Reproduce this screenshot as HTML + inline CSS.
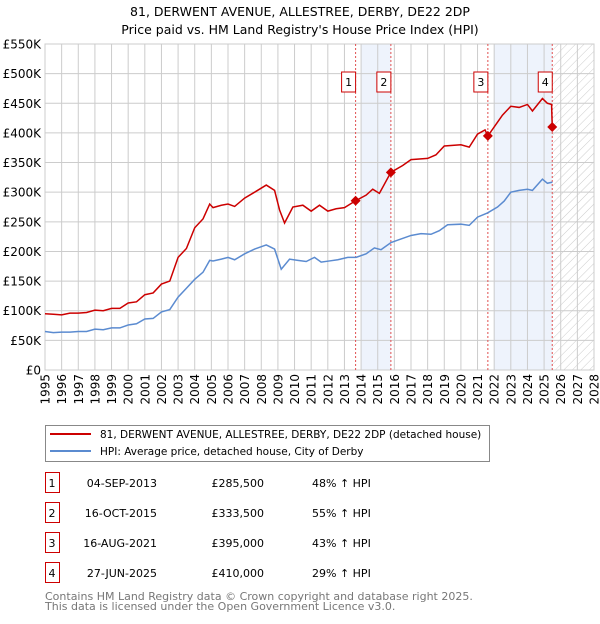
<!DOCTYPE html>
<html><head><meta charset="utf-8"><style>
body{margin:0;background:#fff;font-family:"DejaVu Sans","Liberation Sans",sans-serif}
svg text{font-family:"DejaVu Sans","Liberation Sans",sans-serif}
</style></head><body>
<svg id="c" width="600" height="620" viewBox="0 0 600 620" xmlns="http://www.w3.org/2000/svg">
<defs><pattern id="hatch" width="6" height="6" patternUnits="userSpaceOnUse" patternTransform="rotate(45)"><line x1="0" y1="0" x2="0" y2="6" stroke="#ccc" stroke-width="1"/></pattern></defs>
<text x="300" y="16" text-anchor="middle" font-size="12.5">81, DERWENT AVENUE, ALLESTREE, DERBY, DE22 2DP</text>
<text x="300" y="34" text-anchor="middle" font-size="12.5">Price paid vs. HM Land Registry's House Price Index (HPI)</text>
<g id="plot"></g>
<g>
<rect x="45.5" y="425.5" width="444" height="36" fill="#fff" stroke="#888"/>
<line x1="50" y1="434" x2="91" y2="434" stroke="#cc0000" stroke-width="2"/>
<text x="100" y="438" font-size="10.5">81, DERWENT AVENUE, ALLESTREE, DERBY, DE22 2DP (detached house)</text>
<line x1="50" y1="451" x2="91" y2="451" stroke="#5b8bd0" stroke-width="2"/>
<text x="100" y="455" font-size="10.5">HPI: Average price, detached house, City of Derby</text>
</g>
<g id="table" font-size="11"></g>
<text x="45" y="600" font-size="11" fill="#777">Contains HM Land Registry data © Crown copyright and database right 2025.</text>
<text x="45" y="610" font-size="11" fill="#777">This data is licensed under the Open Government Licence v3.0.</text>
</svg>
<script>
const yTicks=[0,50,100,150,200,250,300,350,400,450,500,550];
const yearTicks=[1995,1996,1997,1998,1999,2000,2001,2002,2003,2004,2005,2006,2007,2008,2009,2010,2011,2012,2013,2014,2015,2016,2017,2018,2019,2020,2021,2022,2023,2024,2025,2026,2027,2028];
const hpiYears=[1995,1995.5,1996,1996.5,1997,1997.5,1998,1998.5,1999,1999.5,2000,2000.5,2001,2001.5,2002,2002.5,2003,2003.5,2004,2004.5,2004.9,2005.1,2005.6,2006,2006.4,2007,2007.6,2008.3,2008.8,2009.2,2009.7,2010.2,2010.7,2011.2,2011.6,2012.1,2012.6,2013.2,2013.7,2014.3,2014.8,2015.2,2015.8,2016.3,2017,2017.6,2018.2,2018.7,2019.2,2020,2020.5,2021,2021.6,2022.2,2022.6,2023,2023.5,2024,2024.3,2024.9,2025.2,2025.5];
const hpiValues=[65,63,64,64,65,65,69,68,71,71,76,78,86,87,98,102,123,138,153,165,185,184,187,190,186,196,204,211,204,170,187,185,183,190,182,184,186,190,190,196,206,203,215,220,227,230,229,235,245,246,244,258,265,275,285,300,303,305,303,322,315,317];
const redYears=[1995,1995.5,1996,1996.5,1997,1997.5,1998,1998.5,1999,1999.5,2000,2000.5,2001,2001.5,2002,2002.5,2003,2003.5,2004,2004.5,2004.9,2005.1,2005.6,2006,2006.4,2007,2007.6,2008.3,2008.8,2009.1,2009.4,2009.9,2010.5,2011,2011.5,2012,2012.5,2013,2013.67,2014.3,2014.7,2015.1,2015.79,2016.5,2017,2018,2018.5,2019,2020,2020.5,2021,2021.45,2021.62,2022,2022.5,2023,2023.5,2024,2024.3,2024.9,2025.2,2025.45,2025.49];
const redValues=[95,94,93,96,96,97,101,100,104,104,113,115,127,130,145,150,190,205,240,255,280,274,278,280,276,290,300,312,303,270,248,275,278,268,278,268,272,274,285.5,295,305,298,333.5,345,355,357,363,378,380,376,398,405,395,410,430,445,443,448,437,458,450,448,410];
const saleLabels=["1","2","3","4"];
const saleDates=[2013.67,2015.79,2021.62,2025.49];
const salePrices=[285.5,333.5,395,410];
const saleDateText=["04-SEP-2013","16-OCT-2015","16-AUG-2021","27-JUN-2025"];
const salePriceText=["£285,500","£333,500","£395,000","£410,000"];
const saleHpiText=["48% ↑ HPI","55% ↑ HPI","43% ↑ HPI","29% ↑ HPI"];
const shadeFrom=[2014,2022];
const shadeTo=[2015.79,2025.49];

const NS="http://www.w3.org/2000/svg";
const L=45,R=594,T=44,B=370;
const xS=y=>L+(y-1995)/(2028-1995)*(R-L);
const yS=v=>B-v/550*(B-T);
const plot=document.getElementById('plot');
function mk(tag,attrs,parent){const e=document.createElementNS(NS,tag);for(const k in attrs)e.setAttribute(k,attrs[k]);(parent||plot).appendChild(e);return e;}
const bg=mk('rect',{x:L,y:T,width:R-L,height:B-T,fill:'#fff'});


for(let i=0;i<shadeFrom.length;i++){
 const s=mk('rect',{x:xS(shadeFrom[i]),y:T,width:xS(shadeTo[i])-xS(shadeFrom[i]),height:B-T,fill:'#eef3fc'});
 
 
}
const h=mk('rect',{x:xS(saleDates[3]),y:T,width:R-xS(saleDates[3]),height:B-T,fill:'url(#hatch)'});


yearTicks.forEach(y=>{
 const g=mk('line',{x1:xS(y),x2:xS(y),y1:T,y2:B,stroke:'#ccc','stroke-width':1});
 
 
 const t=mk('text',{x:0,y:0,'font-size':12,'text-anchor':'end',transform:`translate(${xS(y)+4.5},${B+4}) rotate(-90)`});
 t.textContent=y;
 
 
});
yTicks.forEach(v=>{
 const g=mk('line',{x1:L,x2:R,y1:yS(v),y2:yS(v),stroke:'#ccc','stroke-width':1});
 
 
 const t=mk('text',{x:L-4,y:yS(v)+4.5,'font-size':12,'text-anchor':'end'});
 t.textContent=v===0?'£0':'£'+v+'K';
 
 
});
const border=mk('rect',{x:L,y:T,width:R-L,height:B-T,fill:'none',stroke:'#ccc'});


saleDates.forEach((d,i)=>{
 const l=mk('line',{x1:xS(d),x2:xS(d),y1:T,y2:B,stroke:'#e05050','stroke-dasharray':'2,2','stroke-width':1});
 
 
});
const hp=mk('polyline',{points:hpiYears.map((y,i)=>xS(y)+','+yS(hpiValues[i])).join(' '),fill:'none',stroke:'#5b8bd0','stroke-width':1.5});


const rp=mk('polyline',{points:redYears.map((y,i)=>xS(y)+','+yS(redValues[i])).join(' '),fill:'none',stroke:'#cc0000','stroke-width':1.5});


saleDates.forEach((d,i)=>{
 const x=xS(d),y=yS(salePrices[i]);
 const p=mk('polygon',{points:`${x},${y-5} ${x+5},${y} ${x},${y+5} ${x-5},${y}`,fill:'#cc0000'});
 
 
 const b=mk('rect',{x:x-14,y:72,width:14,height:20,fill:'#fff',stroke:'#cc0000'});
 
 
 const t=mk('text',{x:x-7,y:86,'font-size':11,'text-anchor':'middle'});
 t.textContent=saleLabels[i];
 
 
});
const tbl=document.getElementById('table');
saleLabels.forEach((s,i)=>{
 const cy=483+i*30;
 const b=mk('rect',{x:45.5,y:cy-10.5,width:14,height:20,fill:'#fff',stroke:'#cc0000'},tbl);
 
 
 const vals=[[s,52,'middle'],[saleDateText[i],157,'end'],[salePriceText[i],264,'end'],[saleHpiText[i],312,'start']];
 vals.forEach(([txt,x,a],j)=>{
  const t=mk('text',{x:x,y:cy+4,'text-anchor':a},tbl);
  t.textContent=txt;
  
  
 });
});
</script>
</body></html>
